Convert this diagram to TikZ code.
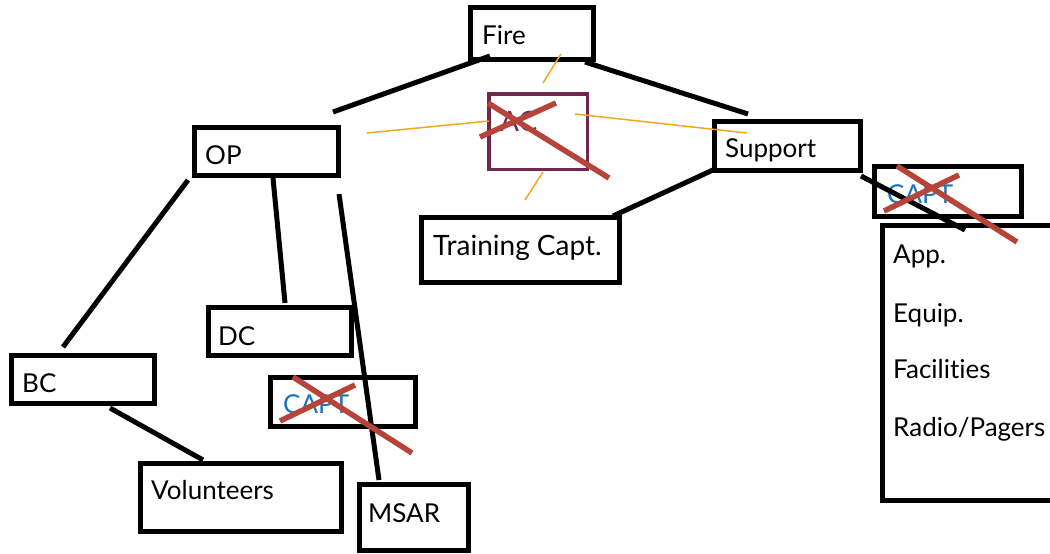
\documentclass[tikz,border=0pt]{standalone}
\usepackage{fontspec}
\setmainfont{Lato}[Ligatures=NoCommon]
\definecolor{acpurple}{HTML}{70284F}
\definecolor{strikered}{HTML}{B7443A}
\definecolor{guideorange}{HTML}{F4A81D}
\definecolor{captblue}{HTML}{1B75BC}
\begin{document}
\begin{tikzpicture}[x=1pt,y=-1pt,
  box/.style={draw=black, line width=5pt, inner sep=0pt, rectangle},
  acbox/.style={draw=acpurple, line width=3.5pt, inner sep=0pt, rectangle},
  lbl/.style={anchor=base west, inner sep=0pt, font=\fontsize{26}{30}\selectfont},
  biglbl/.style={lbl, font=\fontsize{28}{32}\selectfont},
  conn/.style={line width=5pt, draw=black},
  guide/.style={line width=1.5pt, draw=guideorange},
  strike/.style={line width=5.5pt, draw=strikered},
]
\clip (0,0) rectangle (1050,554);
\fill[white] (0,0) rectangle (1050,554);

% boxes
\node[box, minimum width=123pt, minimum height=52pt] (fire) at (532,33.5) {};
\node[acbox, minimum width=98.5pt, minimum height=75.5pt] (ac) at (538,131.5) {};
\node[box, minimum width=144pt, minimum height=48pt] (op) at (266.5,151.5) {};
\node[box, minimum width=146pt, minimum height=49pt] (support) at (787.5,146) {};
\node[box, minimum width=198pt, minimum height=65pt] (training) at (520.5,250) {};
\node[box, minimum width=143pt, minimum height=48pt] (dc) at (280,331.5) {};
\node[box, minimum width=143pt, minimum height=48pt] (bc) at (83,379.5) {};
\node[box, minimum width=145pt, minimum height=49pt] (capta) at (343,402) {};
\node[box, minimum width=201pt, minimum height=68pt] (vol) at (241,497.5) {};
\node[box, minimum width=109pt, minimum height=66pt] (msar) at (414,517.5) {};
\node[box, minimum width=147pt, minimum height=50pt] (captb) at (948,191.5) {};
\node[box, minimum width=177pt, minimum height=275pt] (list) at (971,363) {};

% texts
\node[lbl] (firet) at (482,44) {Fire};
\node[biglbl, text=acpurple] (act) at (500,131) {AC};
\node[lbl] (opt) at (205,164) {OP};
\node[lbl] (supportt) at (725,157) {Support};
\node[biglbl] (trainingt) at (433,255) {Training Capt.};
\node[lbl] (dct) at (218,345) {DC};
\node[lbl] (bct) at (22,392) {BC};
\node[lbl, text=captblue] (captat) at (283,413) {CAPT};
\node[lbl] (volt) at (151,499) {Volunteers};
\node[lbl] (msart) at (368,522) {MSAR};
\node[lbl, text=captblue] (captbt) at (887,203) {CAPT};
\node[lbl] (appt) at (893,263) {App.};
\node[lbl] (equipt) at (893,322) {Equip.};
\node[lbl] (facilt) at (893,378) {Facilities};
\node[lbl] (radiot) at (893,436) {Radio/Pagers};

% guide lines (orange)
\coordinate (g1a) at (561,54);  \coordinate (g1b) at (543,83);
\coordinate (g2a) at (367,133); \coordinate (g2b) at (489,121);
\coordinate (g3a) at (575,114); \coordinate (g3b) at (747,133);
\coordinate (g4a) at (543,172); \coordinate (g4b) at (525,200);
\draw[guide] (g1a) -- (g1b);
\draw[guide] (g2a) -- (g2b);
\draw[guide] (g3a) -- (g3b);
\draw[guide] (g4a) -- (g4b);

% connectors
\coordinate (c1a) at (490,56);  \coordinate (c1b) at (333,112);
\coordinate (c2a) at (585,62);  \coordinate (c2b) at (748,114);
\coordinate (c3a) at (188,180); \coordinate (c3b) at (63,347);
\coordinate (c4a) at (273,178); \coordinate (c4b) at (285,303);
\coordinate (c5a) at (339,194); \coordinate (c5b) at (379,480);
\coordinate (c6a) at (110,408); \coordinate (c6b) at (203,460);
\coordinate (c7a) at (713,170); \coordinate (c7b) at (613,216);
\coordinate (c8a) at (861,176); \coordinate (c8b) at (965,230);
\draw[conn] (c1a) -- (c1b);
\draw[conn] (c2a) -- (c2b);
\draw[conn] (c3a) -- (c3b);
\draw[conn] (c4a) -- (c4b);
\draw[conn] (c5a) -- (c5b);
\draw[conn] (c6a) -- (c6b);
\draw[conn] (c7a) -- (c7b);
\draw[conn] (c8a) -- (c8b);

% strike-outs
\coordinate (s1a) at (488,103); \coordinate (s1b) at (609,178);
\coordinate (s2a) at (556,103); \coordinate (s2b) at (480,137);
\coordinate (s3a) at (293,377); \coordinate (s3b) at (412,453);
\coordinate (s4a) at (355,385); \coordinate (s4b) at (280,421);
\coordinate (s5a) at (897,166); \coordinate (s5b) at (1017,242);
\coordinate (s6a) at (959,175); \coordinate (s6b) at (884,211);
\draw[strike] (s1a) -- (s1b);
\draw[strike] (s2a) -- (s2b);
\draw[strike] (s3a) -- (s3b);
\draw[strike] (s4a) -- (s4b);
\draw[strike] (s5a) -- (s5b);
\draw[strike] (s6a) -- (s6b);
\end{tikzpicture}
\end{document}
